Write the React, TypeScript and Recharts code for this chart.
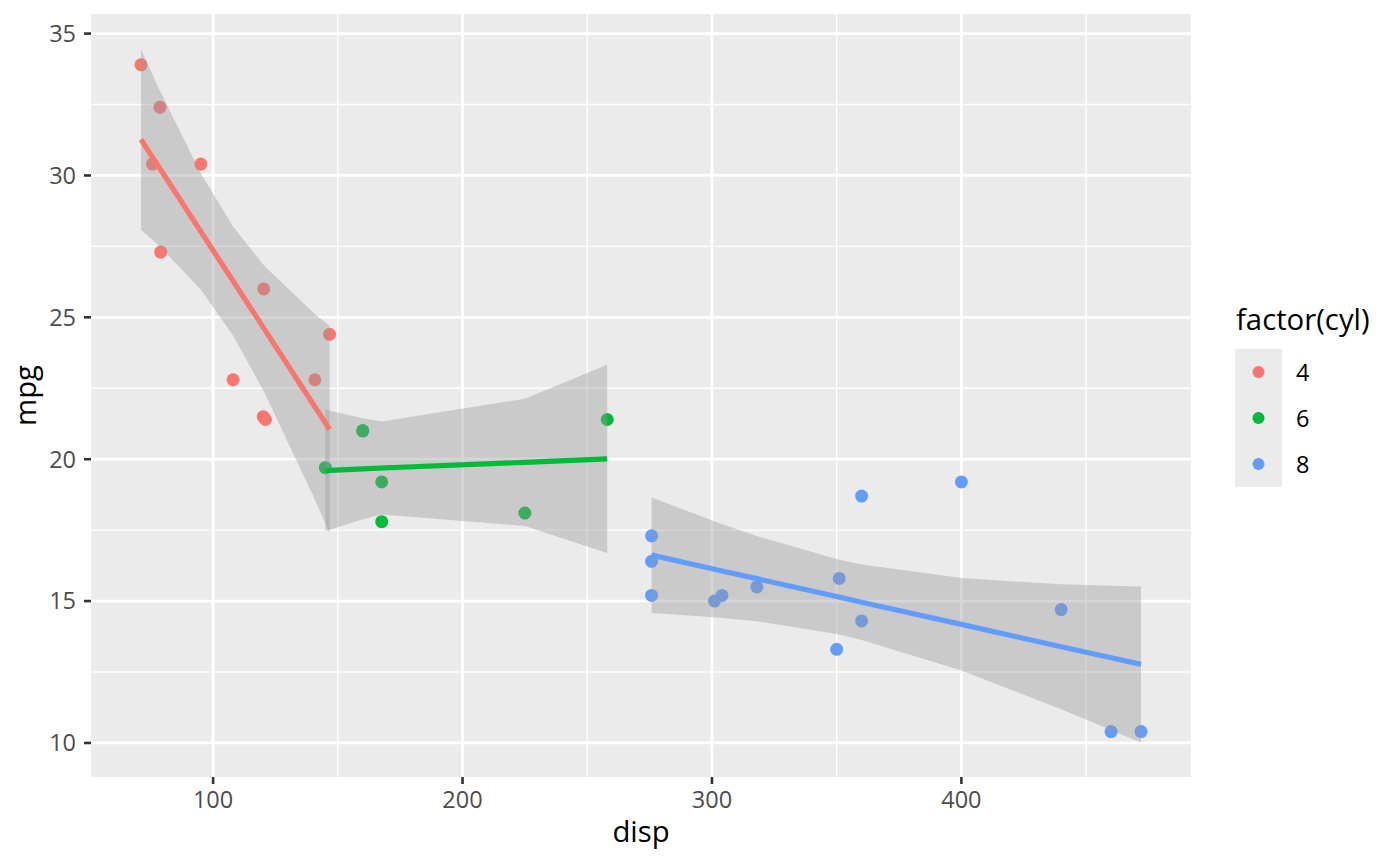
import { ComposedChart, XAxis, YAxis, CartesianGrid, Scatter, Area, Line } from 'recharts'

const FONT = '"Open Sans", "Noto Sans", sans-serif'

// raw points (disp, mpg) by cylinder count
const disp4 = [108, 146.7, 140.8, 78.7, 75.7, 71.1, 120.1, 79, 120.3, 95.1, 121]
const mpg4 = [22.8, 24.4, 22.8, 32.4, 30.4, 33.9, 21.5, 27.3, 26.0, 30.4, 21.4]
const disp6 = [160, 160, 258, 225, 167.6, 167.6, 145]
const mpg6 = [21.0, 21.0, 21.4, 18.1, 19.2, 17.8, 19.7]
const disp8 = [360, 360, 275.8, 275.8, 275.8, 472, 460, 440, 318, 304, 350, 400, 351, 301]
const mpg8 = [18.7, 14.3, 16.4, 17.3, 15.2, 10.4, 10.4, 14.7, 15.5, 15.2, 13.3, 19.2, 15.8, 15.0]

// smooth lines + ribbon
const fitX4 = [71.1, 75.7, 78.7, 79, 95.1, 108, 120.1, 120.3, 121, 140.8, 146.7]
const fit4 = [31.27, 30.64, 30.24, 30.2, 28.02, 26.28, 24.65, 24.62, 24.52, 21.85, 21.05]
const lo4 = [28.09, 27.73, 27.5, 27.47, 25.97, 24.36, 22.43, 22.4, 22.27, 18.58, 17.41]
const hi4 = [34.45, 33.55, 32.98, 32.93, 30.07, 28.2, 26.86, 26.84, 26.77, 25.12, 24.69]

const fitX6 = [145, 160, 167.6, 225, 258]
const fit6 = [19.6, 19.66, 19.69, 19.89, 20.01]
const lo6 = [17.46, 17.88, 18.05, 17.65, 16.69]
const hi6 = [21.74, 21.44, 21.33, 22.13, 23.33]

const fitX8 = [275.8, 301, 304, 318, 350, 351, 360, 400, 440, 460, 472]
const fit8 = [16.62, 16.12, 16.06, 15.79, 15.16, 15.14, 14.96, 14.18, 13.39, 13.0, 12.77]
const lo8 = [14.58, 14.43, 14.4, 14.29, 13.84, 13.82, 13.63, 12.55, 11.19, 10.46, 10.02]
const hi8 = [18.65, 17.81, 17.72, 17.29, 16.48, 16.46, 16.29, 15.81, 15.59, 15.54, 15.51]

const xTicks = [100, 200, 300, 400]
const xMinor = [150, 250, 350, 450]
const yTicks = [10, 15, 20, 25, 30, 35]
const yMinor = [12.5, 17.5, 22.5, 27.5, 32.5]

const pts = (xs: number[], ys: number[]) => xs.map((x, i) => ({ x, y: ys[i] }))
const smooth = (xs: number[], fit: number[], lo: number[], hi: number[]) =>
  xs.map((x, i) => ({ x, fit: fit[i], band: [lo[i], hi[i]] }))

const groups = [
  { name: '4', color: '#F8766D', points: pts(disp4, mpg4), smooth: smooth(fitX4, fit4, lo4, hi4) },
  { name: '6', color: '#00BA38', points: pts(disp6, mpg6), smooth: smooth(fitX6, fit6, lo6, hi6) },
  { name: '8', color: '#619CFF', points: pts(disp8, mpg8), smooth: smooth(fitX8, fit8, lo8, hi8) },
]

const tickStyle = { fill: '#4D4D4D', fontSize: 23.5, fontFamily: FONT }
const tickLine = { stroke: '#333333', strokeWidth: 2.6 }

export default function App() {
  return (
    <div style={{ position: 'absolute', left: 0, top: 0, width: 1400, height: 866, background: '#fff' }}>
      <ComposedChart width={1400} height={866} margin={{ top: 14, right: 209, bottom: 0, left: 0 }}>
        <CartesianGrid fill="#EBEBEB" stroke="#fff" strokeWidth={1.4} horizontalValues={yMinor} verticalValues={xMinor} />
        <CartesianGrid stroke="#fff" strokeWidth={2.8} horizontalValues={yTicks} verticalValues={xTicks} />
        <XAxis
          type="number"
          dataKey="x"
          domain={[51.05, 492.05]}
          allowDataOverflow
          ticks={xTicks}
          height={89}
          tick={tickStyle}
          tickLine={tickLine}
          tickSize={7}
          tickMargin={7}
          axisLine={false}
        />
        <YAxis
          type="number"
          dataKey="y"
          domain={[8.8, 35.69]}
          allowDataOverflow
          ticks={yTicks}
          width={91}
          tick={tickStyle}
          tickLine={tickLine}
          tickSize={7}
          tickMargin={8}
          axisLine={false}
        />
        {groups.map((g) => (
          <Scatter
            key={'p' + g.name}
            data={g.points}
            zIndex={50}
            isAnimationActive={false}
            shape={(p: any) => <circle cx={p.cx} cy={p.cy} r={6.5} fill={g.color} />}
          />
        ))}
        {groups.map((g) => (
          <Area
            key={'a' + g.name}
            data={g.smooth}
            dataKey="band"
            type="linear"
            stroke="none"
            fill="#999999"
            fillOpacity={0.4}
            zIndex={100}
            isAnimationActive={false}
          />
        ))}
        {groups.map((g) => (
          <Line
            key={'l' + g.name}
            data={g.smooth}
            dataKey="fit"
            type="linear"
            stroke={g.color}
            strokeWidth={5.2}
            dot={false}
            activeDot={false}
            zIndex={400}
            isAnimationActive={false}
          />
        ))}
      </ComposedChart>
      <svg width={1400} height={866} style={{ position: 'absolute', left: 0, top: 0, pointerEvents: 'none' }}>
        <text x={641} y={842} textAnchor="middle" fontSize={29.3} fontFamily={FONT} fill="#000">disp</text>
        <text transform="translate(36,395.5) rotate(-90)" textAnchor="middle" fontSize={29.3} fontFamily={FONT} fill="#000">mpg</text>
        <text x={1236} y={330} fontSize={29.3} fontFamily={FONT} fill="#000">factor(cyl)</text>
        <rect x={1235} y={349} width={47} height={138} fill="#EBEBEB" />
        {groups.map((g, i) => (
          <g key={g.name}>
            <circle cx={1258.5} cy={372 + 46 * i} r={6} fill={g.color} />
            <text x={1296} y={380.5 + 46 * i} fontSize={23.5} fontFamily={FONT} fill="#000">{g.name}</text>
          </g>
        ))}
      </svg>
    </div>
  )
}
